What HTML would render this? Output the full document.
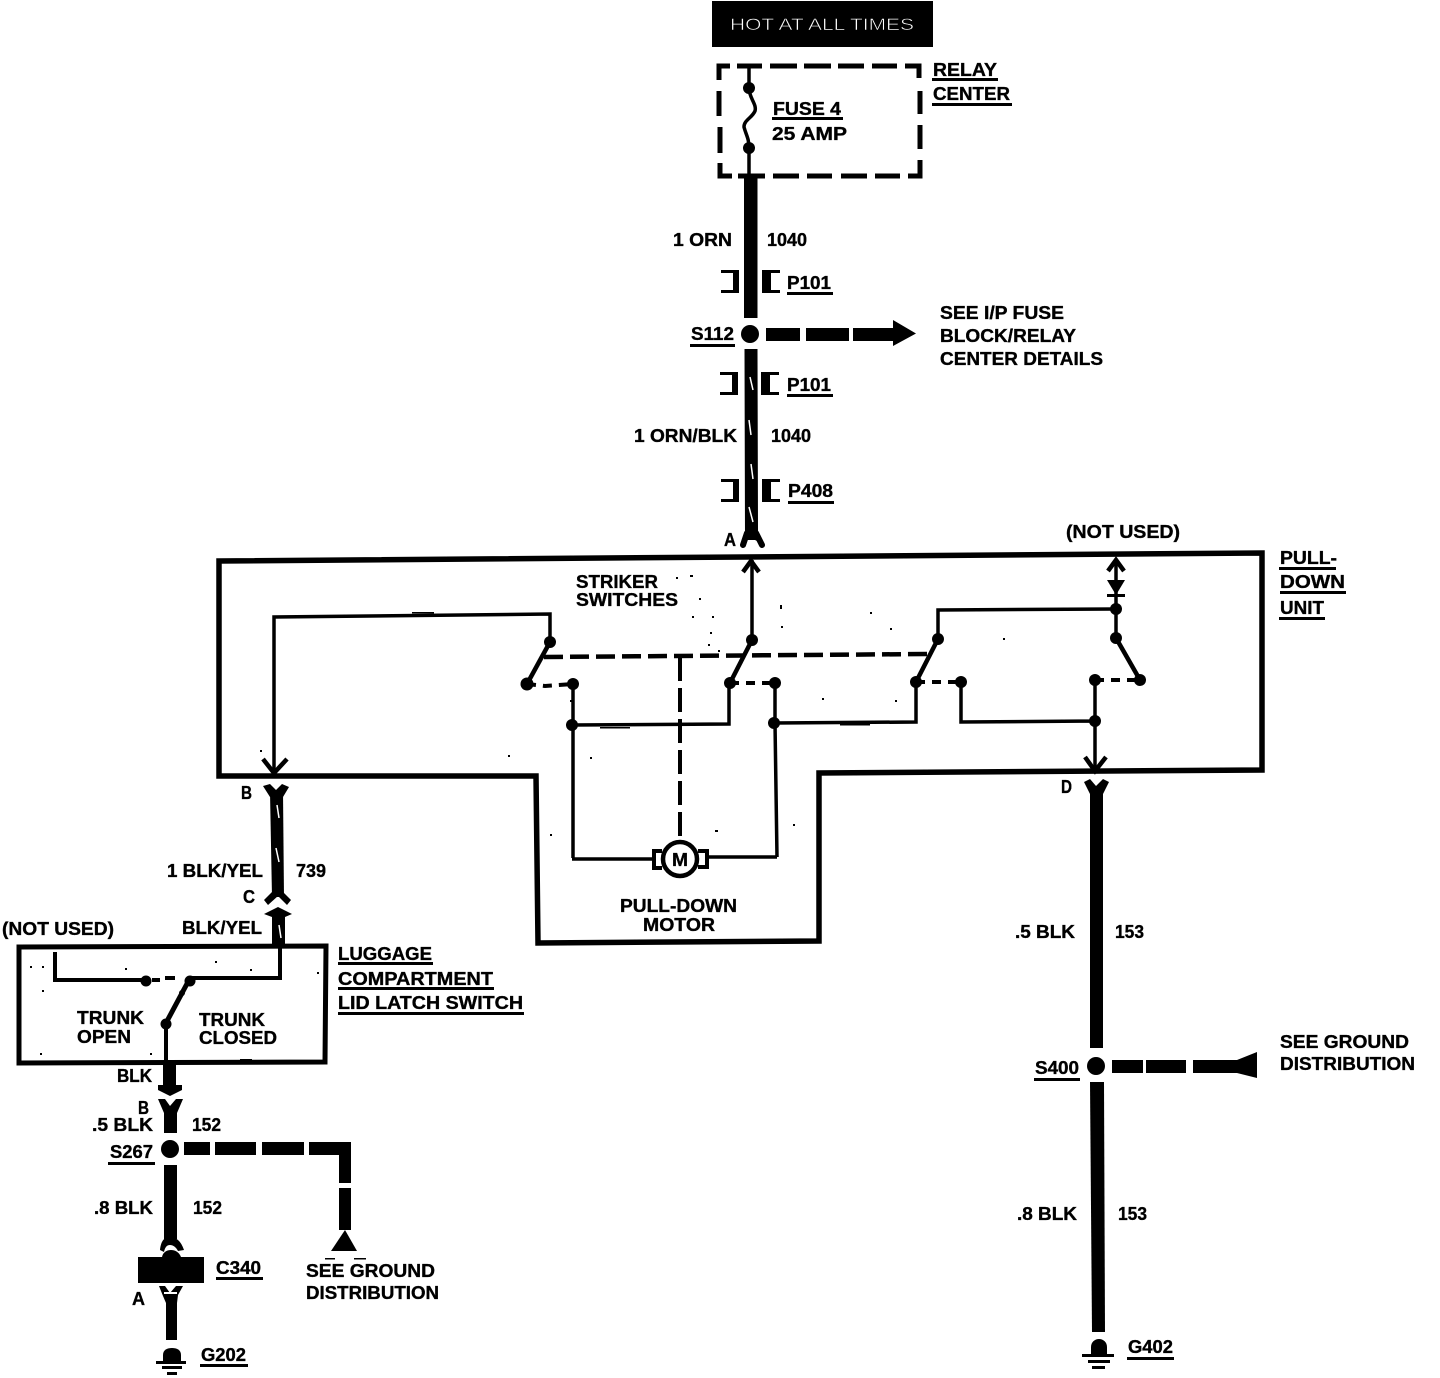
<!DOCTYPE html>
<html><head><meta charset="utf-8"><style>
html,body{margin:0;padding:0;background:#fff}
svg{display:block}
text{font-family:"Liberation Sans",sans-serif;font-weight:bold;font-size:18px;fill:#000;stroke:#000;stroke-width:.35px}
</style></head><body>
<svg xmlns="http://www.w3.org/2000/svg" width="1440" height="1378" viewBox="0 0 1440 1378">
<rect width="1440" height="1378" fill="#fff"/>
<!-- hot box -->
<rect x="712" y="1" width="221" height="46" fill="#000"/>
<text x="730" y="30" textLength="184" lengthAdjust="spacingAndGlyphs" style="font-weight:normal;font-size:17px;fill:#fff;stroke:#000;stroke-width:.55px">HOT AT ALL TIMES</text>
<!-- relay dashed -->
<g fill="none" stroke="#000" stroke-width="5">
<path d="M730 66H719V80"/><path d="M737 66H762M770 66H797M804 66H831M838 66H864M872 66H897M905 66H919V78"/>
<path d="M719 91V116M720 127V153M720 163V176H732M738 176H765M773 176H799M807 176H832M841 176H867M875 176H900M908 176H920V160M920 149V125M920 114V91"/>
</g>
<path d="M749 68V88C749 98 757 104 755 111C752 118 744 120 744 127C746 135 749 138 749 148V176" fill="none" stroke="#000" stroke-width="3.5"/>
<circle cx="749" cy="88" r="6"/><circle cx="749" cy="148" r="6"/>
<!-- main wire -->
<rect x="744" y="176" width="13.500" height="142"/>
<circle cx="750" cy="334" r="9"/>
<path d="M744 349H757.500L758 530L758 540L745 540L744.500 349Z"/>
<g fill="none" stroke="#000" stroke-width="6" stroke-linecap="round"><path d="M747 533L743 545M756 533L762 545"/></g>
<path d="M746 530H757V541L751 538L746 541Z"/>
<g stroke="#fff" stroke-width="1.500"><path d="M750 377L753 390M749 420L751 435M751 464L753 479M749 507L753 522"/></g>
<!-- brackets -->
<path d="M721 270H739V293H721V290H733V273H721Z"/>
<path d="M780 270H762V293H780V290H771V273H780Z"/>
<path d="M720 372H738V395H720V392H732V375H720Z"/><path d="M779 372H761V395H779V392H770V375H779Z"/>
<path d="M721 479H739V502H721V499H733V482H721Z"/><path d="M780 479H762V502H780V499H771V482H780Z"/>
<!-- S112 arrow -->
<rect x="766" y="328" width="34" height="13"/><rect x="806" y="328" width="43" height="13"/>
<path d="M853 328H893V320L916 333.500L893 346V341H853Z"/>
<!-- pull-down frame -->
<path d="M219 561L1262 553V770L819 773V941L538 943L536 776L219 776Z" fill="none" stroke="#000" stroke-width="5.500"/>
<!-- thin wires -->
<g fill="none" stroke="#000" stroke-width="3.500">
<path d="M274 770V617L550 614V642"/>
<path d="M550 642L527 684" stroke-width="4.500"/>
<path d="M573 684V858M572 725L729 724V683"/>
<path d="M752 560V640"/><path d="M752 640L730 683" stroke-width="4.500"/>
<path d="M775 683V723L777 857M774 723L916 722V682"/><path d="M916 682L938 639" stroke-width="4.500"/><path d="M938 639V610L1116 609"/>
<path d="M961 682V722L1095 721M1095 680V770"/>
<path d="M1116 560V638"/><path d="M1116 638L1140 680" stroke-width="4.500"/>
<path d="M572 859H653M707 857H777"/>
<path d="M263 759L274 773L287 759" stroke-width="4.500"/>
<path d="M743 572L751 561L759 572" stroke-width="4.500"/>
<path d="M1108 571L1116 560L1124 571" stroke-width="4.500"/>
<path d="M1085 757L1095 771L1106 757" stroke-width="4.500"/>
</g>
<!-- diode -->
<path d="M1107 580H1125L1116 595Z"/><rect x="1107" y="594" width="18" height="3"/>
<!-- dashes -->
<path d="M544 657L930 654" stroke="#000" stroke-width="4.500" stroke-dasharray="19 7" fill="none"/>
<path d="M680 657V838" stroke="#000" stroke-width="4" stroke-dasharray="24 7" fill="none"/>
<path d="M527 684L545 686L573 684M730 683L775 683M916 682L961 682M1095 680L1140 680" stroke="#000" stroke-width="4" stroke-dasharray="9 7" fill="none"/>
<!-- dots -->
<g>
<circle cx="550" cy="642" r="6"/><circle cx="527" cy="684" r="6.500"/><circle cx="573" cy="684" r="6"/><circle cx="572" cy="725" r="6"/>
<circle cx="752" cy="640" r="6"/><circle cx="730" cy="683" r="6"/><circle cx="775" cy="683" r="6"/><circle cx="774" cy="723" r="6"/>
<circle cx="938" cy="639" r="6"/><circle cx="916" cy="682" r="6"/><circle cx="961" cy="682" r="6"/>
<circle cx="1116" cy="609" r="6"/><circle cx="1116" cy="638" r="6"/><circle cx="1140" cy="680" r="6"/><circle cx="1095" cy="680" r="6"/><circle cx="1095" cy="721" r="6"/>
</g>
<!-- specks -->
<g>
<rect x="412" y="612" width="22" height="1.500"/><rect x="600" y="727" width="30" height="1.500"/><rect x="840" y="724" width="30" height="1.500"/>
<rect x="676" y="577" width="2" height="2"/><rect x="690" y="575" width="3" height="2"/><rect x="699" y="598" width="2" height="2"/><rect x="692" y="616" width="2" height="2"/><rect x="712" y="616" width="2" height="2"/><rect x="710" y="632" width="2" height="2"/><rect x="708" y="644" width="2" height="2"/><rect x="718" y="650" width="2" height="2"/><rect x="780" y="605" width="2" height="4"/><rect x="781" y="626" width="2" height="2"/><rect x="870" y="612" width="2" height="2"/><rect x="890" y="628" width="2" height="2"/><rect x="1003" y="638" width="2" height="2"/><rect x="822" y="698" width="2" height="2"/><rect x="895" y="700" width="2" height="2"/><rect x="570" y="700" width="2" height="2"/>
<rect x="260" y="750" width="2" height="2"/><rect x="508" y="755" width="2" height="2"/><rect x="590" y="757" width="2" height="2"/><rect x="550" y="834" width="2" height="2"/><rect x="715" y="830" width="3" height="2"/><rect x="793" y="824" width="2" height="2"/>
<rect x="30" y="966" width="2" height="2"/><rect x="42" y="966" width="2" height="2"/><rect x="125" y="968" width="2" height="2"/><rect x="42" y="990" width="2" height="2"/><rect x="215" y="961" width="2" height="2"/><rect x="250" y="969" width="2" height="2"/><rect x="317" y="972" width="2" height="2"/><rect x="40" y="1053" width="2" height="2"/><rect x="150" y="1053" width="2" height="2"/><rect x="240" y="1059" width="12" height="1.500"/>
<rect x="325" y="1258" width="10" height="1.500"/><rect x="354" y="1258" width="12" height="1.500"/>
</g>
<!-- motor -->
<circle cx="680" cy="859" r="17" fill="#fff" stroke="#000" stroke-width="4.500"/>
<path d="M662 851H654V868H662" fill="none" stroke="#000" stroke-width="4"/>
<path d="M698 851H707V867H698" fill="none" stroke="#000" stroke-width="4"/>
<text x="672" y="866" textLength="16" lengthAdjust="spacingAndGlyphs">M</text>
<!-- wire 739 -->
<path d="M270 792H283L284 897H272Z"/>
<path d="M263 786L270 784L276 790L282 784L289 787L283 797H270Z"/>
<path d="M272 892L264 900L268 905L278 896L287 905L291 900L283 892Z"/>
<path d="M264 914L278 907L292 914L285 917V944H272L272 917Z"/>
<g stroke="#fff" stroke-width="1.500"><path d="M277 805L279 818M276 848L279 862M279 925L281 938"/></g>
<!-- luggage box -->
<path d="M19 947L326 946L325 1062L19 1063Z" fill="none" stroke="#000" stroke-width="5"/>
<g fill="none" stroke="#000" stroke-width="4">
<path d="M55 952V980H145"/><path d="M189 978H280V946"/><path d="M189 980L166 1023" stroke-width="5"/><path d="M166 1023V1062"/>
<path d="M152 980H160M165 978H175" stroke-width="4"/>
</g>
<circle cx="146" cy="981" r="5.500"/><circle cx="190" cy="981" r="5.500"/><circle cx="166" cy="1024" r="5.500"/><circle cx="182" cy="993" r="3"/>
<!-- left lower wires -->
<path d="M163 1063H176V1085H182V1090L170 1096L158 1090V1085H163Z"/>
<path d="M158 1099H165L170 1106L176 1099H183L177 1113V1133H164V1113Z"/>
<circle cx="170" cy="1149" r="9"/>
<rect x="164" y="1165" width="13" height="74"/>
<path d="M160 1250C161 1240 165 1237 170 1237C176 1237 181 1241 184 1250L178 1251C176 1247 173 1245 170 1245C167 1245 165 1247 164 1252Z"/>
<path d="M162 1257C163 1252 167 1250 171 1250C175 1250 179 1252 181 1257Z"/>
<rect x="138" y="1257" width="66" height="26"/>
<path d="M159 1286L165 1286L170 1293L176 1286L183 1286L178 1295L177 1303V1340H166V1303L163 1296Z"/>
<rect x="164" y="1292" width="13" height="2" fill="#fff"/>
<path d="M163 1362V1355C163 1350 167 1348 172 1348C177 1348 181 1350 181 1355V1362Z"/>
<rect x="156" y="1361" width="30" height="3"/><rect x="162" y="1366" width="20" height="3"/><rect x="167" y="1372" width="10" height="3"/>
<!-- S267 branch -->
<rect x="184" y="1142" width="26" height="13"/><rect x="215" y="1142" width="41" height="13"/><rect x="262" y="1142" width="42" height="13"/>
<path d="M309 1142H351V1183H339V1155H309Z"/><rect x="339" y="1188" width="12" height="42"/>
<path d="M345 1230L357 1251H331Z"/>
<!-- right wires -->
<path d="M1084 782L1090 779L1096 786L1103 779L1109 782L1103 794V1048H1090V794Z"/>
<circle cx="1096" cy="1066" r="9"/>
<path d="M1090 1082H1104L1105 1332H1092Z"/>
<rect x="1112" y="1060" width="31" height="13"/><rect x="1146" y="1060" width="40" height="13"/>
<path d="M1193 1060H1237L1257 1052V1078L1237 1073H1193Z"/>
<path d="M1091 1354V1347C1091 1342 1095 1339 1099 1339C1103 1339 1107 1342 1107 1347V1354Z"/>
<rect x="1082" y="1354" width="32" height="3"/><rect x="1088" y="1360" width="22" height="3"/><rect x="1092" y="1366" width="13" height="3"/>
<!-- underlines -->
<g>
<rect x="932" y="78" width="66" height="3"/><rect x="932" y="103" width="80" height="3"/><rect x="772" y="117" width="71" height="3"/>
<rect x="787" y="292" width="46" height="3"/><rect x="690" y="344" width="45" height="3"/><rect x="787" y="394" width="46" height="3"/><rect x="788" y="501" width="46" height="3"/>
<rect x="1279" y="567" width="57" height="3"/><rect x="1280" y="591" width="66" height="3"/><rect x="1279" y="617" width="46" height="3"/>
<rect x="338" y="962" width="95" height="3"/><rect x="338" y="987" width="156" height="3"/><rect x="338" y="1012" width="186" height="3"/>
<rect x="108" y="1162" width="47" height="3"/><rect x="216" y="1277" width="47" height="3"/><rect x="200" y="1364" width="48" height="3"/>
<rect x="1034" y="1078" width="46" height="3"/><rect x="1127" y="1357" width="47" height="3"/>
</g>
<!-- labels -->
<g>
<text x="933" y="76" textLength="64" lengthAdjust="spacingAndGlyphs">RELAY</text>
<text x="933" y="100" textLength="77" lengthAdjust="spacingAndGlyphs">CENTER</text>
<text x="773" y="115" textLength="68" lengthAdjust="spacingAndGlyphs">FUSE 4</text>
<text x="772" y="140" textLength="75" lengthAdjust="spacingAndGlyphs">25 AMP</text>
<text x="673" y="246" textLength="59" lengthAdjust="spacingAndGlyphs">1 ORN</text>
<text x="767" y="246" textLength="40" lengthAdjust="spacingAndGlyphs">1040</text>
<text x="787" y="289" textLength="44" lengthAdjust="spacingAndGlyphs">P101</text>
<text x="691" y="340" textLength="43" lengthAdjust="spacingAndGlyphs">S112</text>
<text x="787" y="391" textLength="44" lengthAdjust="spacingAndGlyphs">P101</text>
<text x="940" y="319" textLength="124" lengthAdjust="spacingAndGlyphs">SEE I/P FUSE</text>
<text x="940" y="342" textLength="136" lengthAdjust="spacingAndGlyphs">BLOCK/RELAY</text>
<text x="940" y="365" textLength="163" lengthAdjust="spacingAndGlyphs">CENTER DETAILS</text>
<text x="634" y="442" textLength="103" lengthAdjust="spacingAndGlyphs">1 ORN/BLK</text>
<text x="771" y="442" textLength="40" lengthAdjust="spacingAndGlyphs">1040</text>
<text x="788" y="497" textLength="45" lengthAdjust="spacingAndGlyphs">P408</text>
<text x="724" y="546" textLength="12" lengthAdjust="spacingAndGlyphs">A</text>
<text x="1066" y="538" textLength="114" lengthAdjust="spacingAndGlyphs">(NOT USED)</text>
<text x="1280" y="564" textLength="57" lengthAdjust="spacingAndGlyphs">PULL-</text>
<text x="1280" y="588" textLength="65" lengthAdjust="spacingAndGlyphs">DOWN</text>
<text x="1280" y="614" textLength="44" lengthAdjust="spacingAndGlyphs">UNIT</text>
<text x="576" y="588" textLength="82" lengthAdjust="spacingAndGlyphs">STRIKER</text>
<text x="576" y="606" textLength="102" lengthAdjust="spacingAndGlyphs">SWITCHES</text>
<text x="620" y="912" textLength="117" lengthAdjust="spacingAndGlyphs">PULL-DOWN</text>
<text x="643" y="931" textLength="72" lengthAdjust="spacingAndGlyphs">MOTOR</text>
<text x="241" y="799" textLength="11" lengthAdjust="spacingAndGlyphs">B</text>
<text x="167" y="877" textLength="96" lengthAdjust="spacingAndGlyphs">1 BLK/YEL</text>
<text x="296" y="877" textLength="30" lengthAdjust="spacingAndGlyphs">739</text>
<text x="243" y="903" textLength="12" lengthAdjust="spacingAndGlyphs">C</text>
<text x="2" y="935" textLength="112" lengthAdjust="spacingAndGlyphs">(NOT USED)</text>
<text x="182" y="934" textLength="80" lengthAdjust="spacingAndGlyphs">BLK/YEL</text>
<text x="338" y="960" textLength="94" lengthAdjust="spacingAndGlyphs">LUGGAGE</text>
<text x="338" y="985" textLength="155" lengthAdjust="spacingAndGlyphs">COMPARTMENT</text>
<text x="338" y="1009" textLength="185" lengthAdjust="spacingAndGlyphs">LID LATCH SWITCH</text>
<text x="77" y="1024" textLength="67" lengthAdjust="spacingAndGlyphs">TRUNK</text>
<text x="77" y="1043" textLength="54" lengthAdjust="spacingAndGlyphs">OPEN</text>
<text x="199" y="1026" textLength="66" lengthAdjust="spacingAndGlyphs">TRUNK</text>
<text x="199" y="1044" textLength="78" lengthAdjust="spacingAndGlyphs">CLOSED</text>
<text x="117" y="1082" textLength="35" lengthAdjust="spacingAndGlyphs">BLK</text>
<text x="138" y="1114" textLength="11" lengthAdjust="spacingAndGlyphs">B</text>
<text x="92" y="1131" textLength="61" lengthAdjust="spacingAndGlyphs">.5 BLK</text>
<text x="192" y="1131" textLength="29" lengthAdjust="spacingAndGlyphs">152</text>
<text x="110" y="1158" textLength="43" lengthAdjust="spacingAndGlyphs">S267</text>
<text x="94" y="1214" textLength="59" lengthAdjust="spacingAndGlyphs">.8 BLK</text>
<text x="193" y="1214" textLength="29" lengthAdjust="spacingAndGlyphs">152</text>
<text x="216" y="1274" textLength="45" lengthAdjust="spacingAndGlyphs">C340</text>
<text x="132" y="1305" textLength="13" lengthAdjust="spacingAndGlyphs">A</text>
<text x="306" y="1277" textLength="129" lengthAdjust="spacingAndGlyphs">SEE GROUND</text>
<text x="306" y="1299" textLength="133" lengthAdjust="spacingAndGlyphs">DISTRIBUTION</text>
<text x="201" y="1361" textLength="45" lengthAdjust="spacingAndGlyphs">G202</text>
<text x="1061" y="793" textLength="11" lengthAdjust="spacingAndGlyphs">D</text>
<text x="1015" y="938" textLength="60" lengthAdjust="spacingAndGlyphs">.5 BLK</text>
<text x="1115" y="938" textLength="29" lengthAdjust="spacingAndGlyphs">153</text>
<text x="1035" y="1074" textLength="44" lengthAdjust="spacingAndGlyphs">S400</text>
<text x="1280" y="1048" textLength="129" lengthAdjust="spacingAndGlyphs">SEE GROUND</text>
<text x="1280" y="1070" textLength="135" lengthAdjust="spacingAndGlyphs">DISTRIBUTION</text>
<text x="1017" y="1220" textLength="60" lengthAdjust="spacingAndGlyphs">.8 BLK</text>
<text x="1118" y="1220" textLength="29" lengthAdjust="spacingAndGlyphs">153</text>
<text x="1128" y="1353" textLength="45" lengthAdjust="spacingAndGlyphs">G402</text>
</g>
</svg>
</body></html>
